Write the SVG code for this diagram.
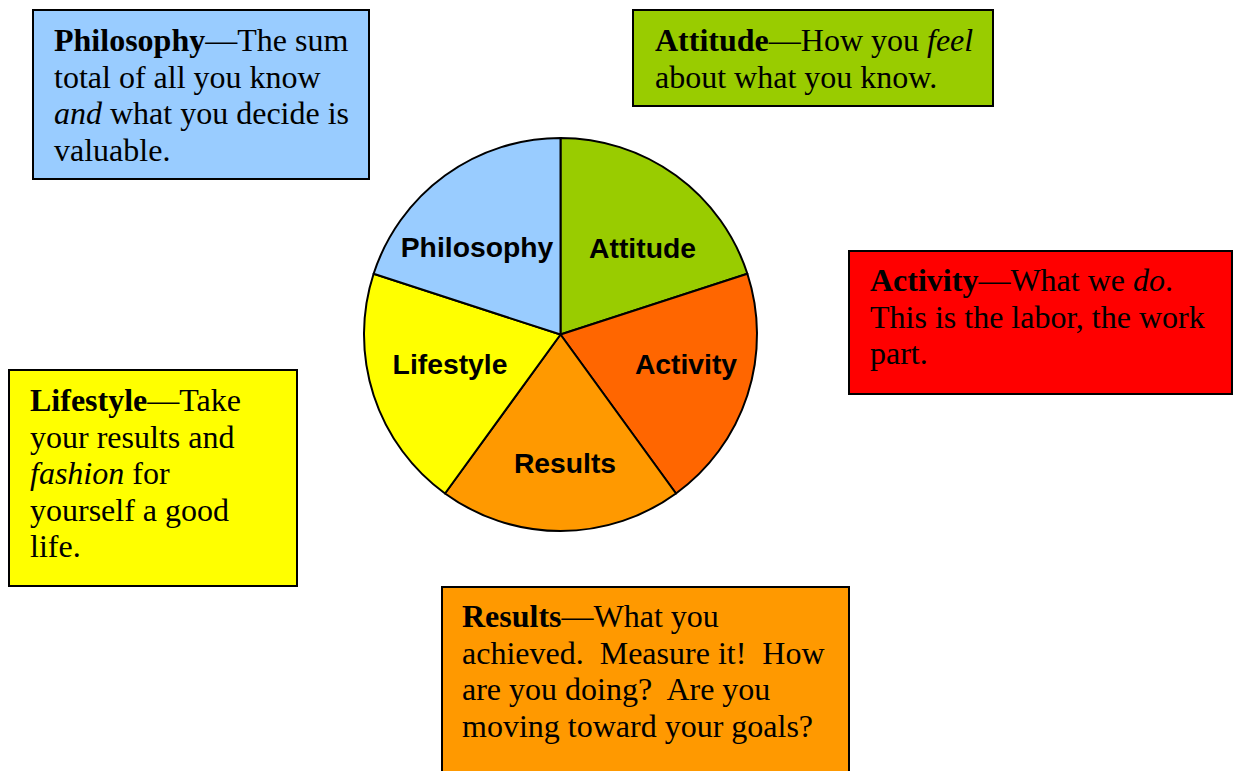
<svg xmlns="http://www.w3.org/2000/svg" width="1234" height="771" viewBox="0 0 1234 771">
<style>
.box{stroke:#000;stroke-width:2}
.bt{font-family:"Liberation Serif","Times New Roman",serif;font-size:32px;fill:#000}
.b{font-weight:bold}
.i{font-style:italic}
.slice{stroke:#000;stroke-width:2;stroke-linejoin:round}
.pl{font-family:"Liberation Sans",Arial,sans-serif;font-size:28.3px;font-weight:bold;fill:#000;text-anchor:middle}
</style>
<rect width="1234" height="771" fill="#fff"/>
<g id="pie">
<path class="slice" fill="#99CC00" d="M560.5,334.5 L560.5,138 A196.5,196.5 0 0 1 747.38,273.78 Z"/>
<path class="slice" fill="#FF6600" d="M560.5,334.5 L747.38,273.78 A196.5,196.5 0 0 1 676,493.47 Z"/>
<path class="slice" fill="#FF9900" d="M560.5,334.5 L676,493.47 A196.5,196.5 0 0 1 445,493.47 Z"/>
<path class="slice" fill="#FFFF00" d="M560.5,334.5 L445,493.47 A196.5,196.5 0 0 1 373.62,273.78 Z"/>
<path class="slice" fill="#99CCFF" d="M560.5,334.5 L373.62,273.78 A196.5,196.5 0 0 1 560.5,138 Z"/>
<text class="pl" x="477" y="257">Philosophy</text>
<text class="pl" x="642.5" y="258">Attitude</text>
<text class="pl" x="686" y="374">Activity</text>
<text class="pl" x="450" y="374">Lifestyle</text>
<text class="pl" x="565" y="473">Results</text>
</g>
<g id="philosophy">
<rect class="box" x="33" y="10" width="336" height="169" fill="#99CCFF"/>
<text class="bt" x="54" y="51"><tspan class="b">Philosophy</tspan>—The sum</text>
<text class="bt" x="54" y="87.6">total of all you know</text>
<text class="bt" x="54" y="124.2"><tspan class="i">and</tspan> what you decide is</text>
<text class="bt" x="54" y="160.8">valuable.</text>
</g>
<g id="attitude">
<rect class="box" x="633" y="10" width="360" height="96" fill="#99CC00"/>
<text class="bt" x="655" y="51"><tspan class="b">Attitude</tspan>—How you <tspan class="i">feel</tspan></text>
<text class="bt" x="655" y="87.6">about what you know.</text>
</g>
<g id="activity">
<rect class="box" x="849" y="251" width="383" height="143" fill="#FF0000"/>
<text class="bt" x="870" y="291"><tspan class="b">Activity</tspan>—What we <tspan class="i">do</tspan>.</text>
<text class="bt" x="870" y="327.6">This is the labor, the work</text>
<text class="bt" x="870" y="364.2">part.</text>
</g>
<g id="lifestyle">
<rect class="box" x="9" y="370" width="288" height="216" fill="#FFFF00"/>
<text class="bt" x="30" y="411"><tspan class="b">Lifestyle</tspan>—Take</text>
<text class="bt" x="30" y="447.6">your results and</text>
<text class="bt" x="30" y="484.2"><tspan class="i">fashion</tspan> for</text>
<text class="bt" x="30" y="520.8">yourself a good</text>
<text class="bt" x="30" y="557.4">life.</text>
</g>
<g id="results">
<rect class="box" x="442" y="587" width="407" height="200" fill="#FF9900"/>
<text class="bt" x="462" y="627"><tspan class="b">Results</tspan>—What you</text>
<text class="bt" x="462" y="663.6" xml:space="preserve">achieved.  Measure it!  How</text>
<text class="bt" x="462" y="700.2" xml:space="preserve">are you doing?  Are you</text>
<text class="bt" x="462" y="736.8">moving toward your goals?</text>
</g>
<g id="connectors"></g>
</svg>
